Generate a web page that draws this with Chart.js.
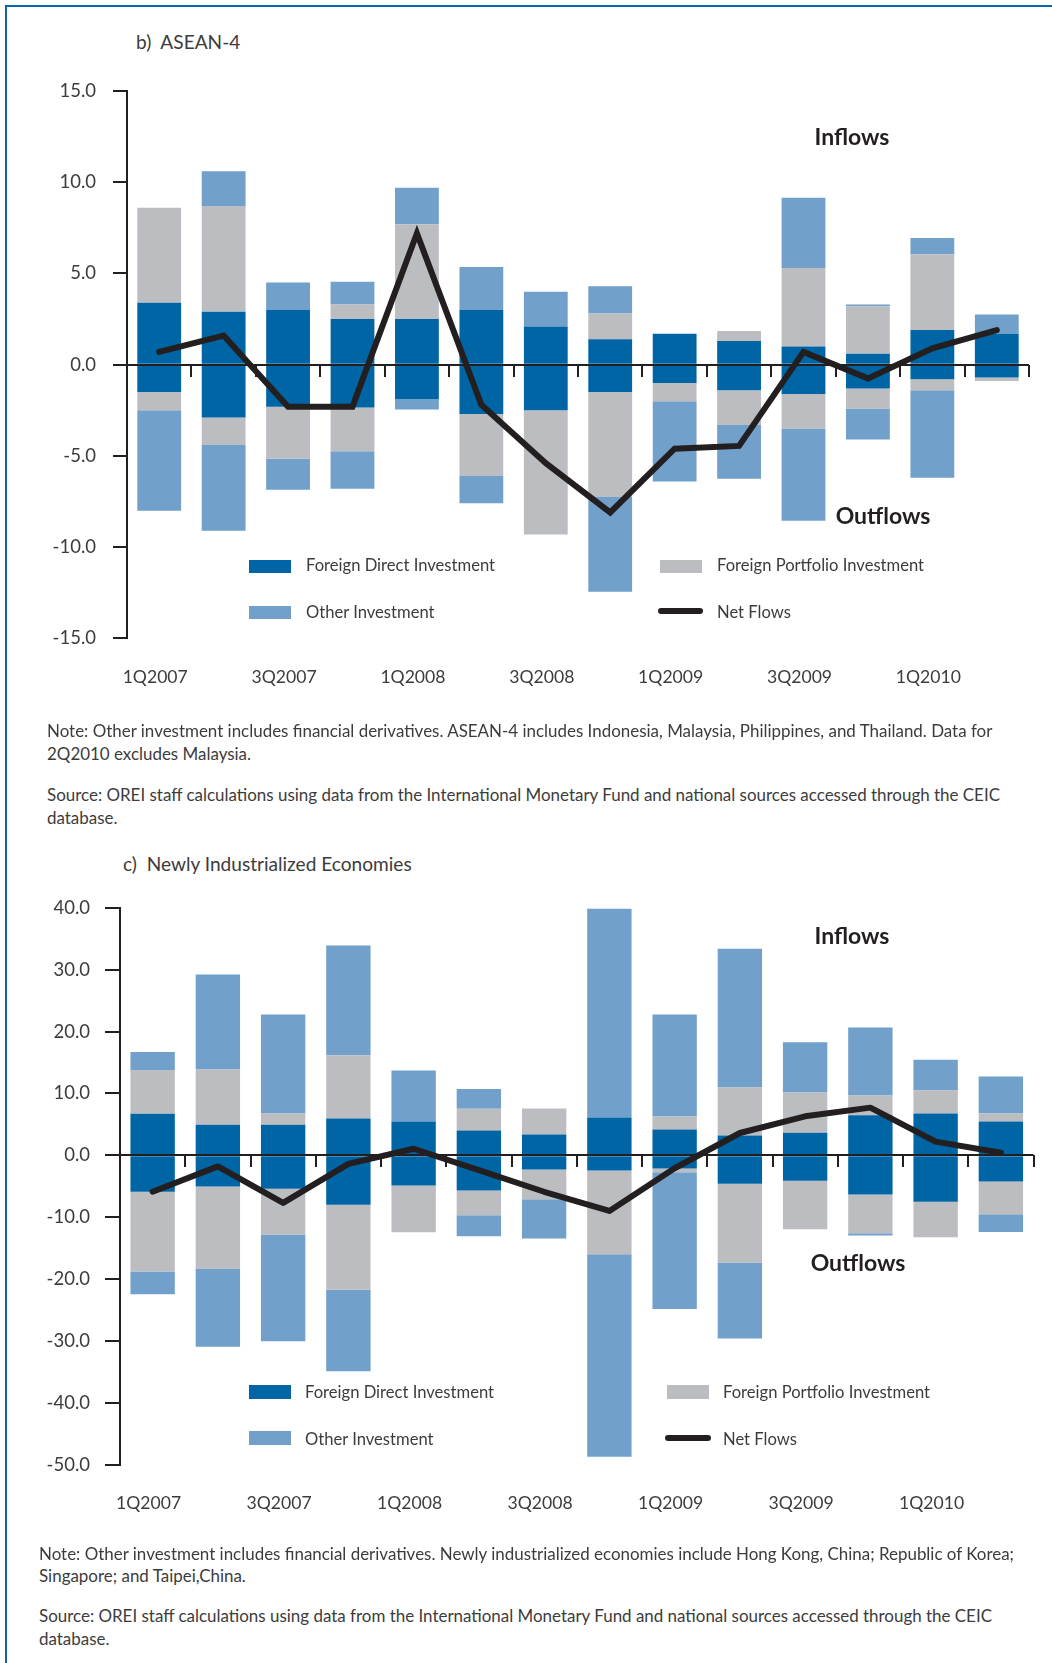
<!DOCTYPE html>
<html><head><meta charset="utf-8">
<script src="https://cdn.jsdelivr.net/npm/chart.js@4.4.1/dist/chart.umd.min.js"></script>
<style>
html,body{margin:0;padding:0;background:#fff;}
body{width:1052px;height:1663px;position:relative;overflow:hidden;font-family:"Lato","Open Sans",sans-serif;color:#3c3c3c;}
.bt{position:absolute;left:5px;top:5px;width:1047px;height:2px;background:#0e65a9;}
.bl{position:absolute;left:5px;top:5px;width:2px;height:1658px;background:#0e65a9;}
.t{position:absolute;white-space:nowrap;line-height:1;transform:translateY(-50%);}
.c{transform:translate(-50%,-50%);}
.title{font-size:19.1px;}
.note{font-size:16.95px;}
.lg{font-size:16.6px;}
.big{font-weight:700;font-size:23px;color:#231f20;}
.sw{position:absolute;width:42px;height:13px;}
.ln{position:absolute;height:6px;border-radius:3px;background:#231f20;}
canvas{position:absolute;left:0;}
</style></head>
<body>
<div class="bt"></div><div class="bl"></div>

<div class="t title" style="left:136px;top:42px;">b)&nbsp; ASEAN-4</div>
<canvas id="cb" width="1052" height="720" style="top:0"></canvas>
<div class="t big c" style="left:852px;top:136px;">Inflows</div>
<div class="t big c" style="left:883px;top:515px;">Outflows</div>
<div class="sw" style="left:249px;top:560px;background:#0065a4"></div>
<div class="t lg" style="left:306px;top:565px;">Foreign Direct Investment</div>
<div class="sw" style="left:249px;top:606px;background:#71a0ca"></div>
<div class="t lg" style="left:306px;top:612px;">Other Investment</div>
<div class="sw" style="left:660px;top:560px;background:#bcbdc1"></div>
<div class="t lg" style="left:717px;top:565px;">Foreign Portfolio Investment</div>
<div class="ln" style="left:658px;top:608px;width:45px;"></div>
<div class="t lg" style="left:717px;top:612px;">Net Flows</div>
<div class="t note" style="left:47px;top:731px;">Note: Other investment includes financial derivatives. ASEAN-4 includes Indonesia, Malaysia, Philippines, and Thailand. Data for</div>
<div class="t note" style="left:47px;top:754px;">2Q2010 excludes Malaysia.</div>
<div class="t note" style="left:47px;top:795px;">Source: OREI staff calculations using data from the International Monetary Fund and national sources accessed through the CEIC</div>
<div class="t note" style="left:47px;top:818px;">database.</div>

<div class="t title" style="left:123px;top:864px;">c)&nbsp; Newly Industrialized Economies</div>
<canvas id="cc" width="1052" height="760" style="top:800px"></canvas>
<div class="t big c" style="left:852px;top:935px;">Inflows</div>
<div class="t big c" style="left:858px;top:1262px;">Outflows</div>
<div class="sw" style="left:249px;top:1385px;height:14px;background:#0065a4"></div>
<div class="t lg" style="left:305px;top:1392px;">Foreign Direct Investment</div>
<div class="sw" style="left:249px;top:1431px;height:14px;background:#71a0ca"></div>
<div class="t lg" style="left:305px;top:1439px;">Other Investment</div>
<div class="sw" style="left:667px;top:1385px;height:14px;background:#bcbdc1"></div>
<div class="t lg" style="left:723px;top:1392px;">Foreign Portfolio Investment</div>
<div class="ln" style="left:665px;top:1435px;width:46px;"></div>
<div class="t lg" style="left:723px;top:1439px;">Net Flows</div>
<div class="t note" style="left:39px;top:1554px;">Note: Other investment includes financial derivatives. Newly industrialized economies include Hong Kong, China; Republic of Korea;</div>
<div class="t note" style="left:39px;top:1576px;">Singapore; and Taipei,China.</div>
<div class="t note" style="left:39px;top:1616px;">Source: OREI staff calculations using data from the International Monetary Fund and national sources accessed through the CEIC</div>
<div class="t note" style="left:39px;top:1639px;">database.</div>

<script>
const quarters = ["1Q2007","2Q2007","3Q2007","4Q2007","1Q2008","2Q2008","3Q2008","4Q2008","1Q2009","2Q2009","3Q2009","4Q2009","1Q2010","2Q2010"];

// b) ASEAN-4
const aseanFdiIn  = [3.4, 2.9, 3.0, 2.5, 2.5, 3.0, 2.1, 1.4, 1.7, 1.3, 1.0, 0.6, 1.9, 1.7];
const aseanFdiOut = [-1.5, -2.9, -2.3, -2.35, -1.9, -2.7, -2.5, -1.5, -1.0, -1.4, -1.6, -1.3, -0.8, -0.7];
const aseanFpiIn  = [5.2, 5.8, 0, 0.8, 5.2, 0, 0, 1.4, 0, 0.55, 4.3, 2.6, 4.15, 0];
const aseanFpiOut = [-1.0, -1.5, -2.85, -2.4, 0, -3.4, -6.8, -5.75, -1.0, -1.9, -1.9, -1.1, -0.6, -0.2];
const aseanOiIn   = [0, 1.9, 1.5, 1.25, 2.0, 2.35, 1.9, 1.5, 0, 0, 3.85, 0.1, 0.9, 1.05];
const aseanOiOut  = [-5.5, -4.7, -1.7, -2.05, -0.55, -1.5, 0, -5.2, -4.4, -2.95, -5.05, -1.7, -4.8, 0];
const aseanNet    = [0.7, 1.6, -2.3, -2.3, 7.2, -2.2, -5.4, -8.1, -4.6, -4.45, 0.7, -0.75, 0.9, 1.9];
const aseanTicks  = {min: -15, max: 15, step: 5};

// c) Newly Industrialized Economies
const nieFdiIn  = [6.7, 4.95, 4.95, 5.95, 5.45, 4.0, 3.35, 6.1, 4.15, 3.2, 3.65, 6.45, 6.75, 5.45];
const nieFdiOut = [-5.9, -5.05, -5.4, -8.0, -4.9, -5.7, -2.3, -2.45, -2.15, -4.6, -4.1, -6.35, -7.5, -4.25];
const nieFpiIn  = [7.1, 8.9, 1.8, 10.2, 0, 3.5, 4.2, 0, 2.1, 7.75, 6.5, 3.2, 3.7, 1.3];
const nieFpiOut = [-12.9, -13.25, -7.4, -13.75, -7.55, -4.0, -4.8, -13.55, -0.6, -12.75, -7.85, -6.25, -5.75, -5.3];
const nieOiIn   = [2.9, 15.35, 16.0, 17.75, 8.25, 3.2, 0, 33.75, 16.5, 22.45, 8.1, 11.0, 5.0, 6.0];
const nieOiOut  = [-3.65, -12.65, -17.25, -13.15, 0, -3.4, -6.35, -32.75, -22.1, -12.25, 0, -0.35, 0, -2.85];
const nieNet    = [-5.9, -1.8, -7.7, -1.4, 1.05, -2.4, -5.9, -9.0, -2.1, 3.6, 6.3, 7.7, 2.2, 0.4];
const nieTicks  = {min: -50, max: 40, step: 10};

const C_FDI = '#0065a4', C_FPI = '#bcbdc1', C_OI = '#71a0ca', C_NET = '#231f20', C_TXT = '#3c3c3c';
const FONT = '"Lato","Open Sans",sans-serif';

const zeroAxis = {
  id: 'zeroAxis',
  beforeDatasetDraw(chart, args) {
    if (args.meta.type !== 'line') return;
    const {ctx, chartArea, scales: {x, y}} = chart;
    const y0 = Math.round(y.getPixelForValue(0));
    ctx.save();
    ctx.strokeStyle = C_NET; ctx.lineWidth = 2;
    ctx.beginPath();
    ctx.moveTo(chartArea.left, y0); ctx.lineTo(chartArea.right, y0);
    const n = chart.data.labels.length;
    for (let i = 1; i <= n; i++) {
      const bx = Math.round(x.getPixelForValue(i - 0.5));
      ctx.moveTo(bx, y0); ctx.lineTo(bx, y0 + 12);
    }
    ctx.stroke();
    ctx.restore();
  }
};

function bar(label, data, color) {
  return {type: 'bar', label, data, backgroundColor: color, borderWidth: 0, stack: 's', order: 1,
          barPercentage: 0.68, categoryPercentage: 1};
}

function makeChart(id, d, cfg) {
  new Chart(document.getElementById(id), {
    type: 'bar',
    data: {
      labels: quarters,
      datasets: [
        bar('Foreign Direct Investment', d.fdiIn, C_FDI),
        bar('Foreign Direct Investment out', d.fdiOut, C_FDI),
        bar('Foreign Portfolio Investment', d.fpiIn, C_FPI),
        bar('Foreign Portfolio Investment out', d.fpiOut, C_FPI),
        bar('Other Investment', d.oiIn, C_OI),
        bar('Other Investment out', d.oiOut, C_OI),
        {type: 'line', label: 'Net Flows', data: d.net, borderColor: C_NET, borderWidth: 6,
         pointRadius: 0, tension: 0, borderCapStyle: 'round', borderJoinStyle: cfg.join,
         stack: 'net', order: 0, fill: false, clip: false}
      ]
    },
    options: {
      responsive: false, animation: false, devicePixelRatio: 1,
      layout: {padding: {left: 0, right: cfg.right, top: cfg.top, bottom: 0}},
      plugins: {legend: {display: false}, tooltip: {enabled: false}},
      scales: {
        x: {
          stacked: true, offset: true,
          grid: {display: false, drawTicks: false}, border: {display: false},
          ticks: {autoSkip: false, maxRotation: 0, minRotation: 0, padding: cfg.xPad, labelOffset: -4,
                  color: C_TXT, font: {family: FONT, size: 17.6},
                  callback(v, i) { return i % 2 === 0 ? this.getLabelForValue(v) : ''; }},
          afterFit(s) { s.height = cfg.xh; }
        },
        y: {
          stacked: true, min: cfg.ticks.min, max: cfg.ticks.max,
          grid: {display: true, drawOnChartArea: false, drawTicks: true, tickLength: cfg.tl,
                 color: C_NET, lineWidth: 2},
          border: {display: true, color: C_NET, width: 2},
          ticks: {stepSize: cfg.ticks.step, padding: cfg.yPad, color: C_TXT,
                  font: {family: FONT, size: 18.5},
                  callback(v) { return Number(v).toFixed(1); }},
          afterFit(s) { s.width = cfg.yw; }
        }
      }
    },
    plugins: [zeroAxis]
  });
}

makeChart('cb', {fdiIn: aseanFdiIn, fdiOut: aseanFdiOut, fpiIn: aseanFpiIn, fpiOut: aseanFpiOut,
                 oiIn: aseanOiIn, oiOut: aseanOiOut, net: aseanNet},
          {ticks: aseanTicks, right: 23, top: 91, xh: 81.6, yw: 127, tl: 14, yPad: 17, xPad: 28, join: 'miter'});
makeChart('cc', {fdiIn: nieFdiIn, fdiOut: nieFdiOut, fpiIn: nieFpiIn, fpiOut: nieFpiOut,
                 oiIn: nieOiIn, oiOut: nieOiOut, net: nieNet},
          {ticks: nieTicks, right: 18.5, top: 107.8, xh: 95.4, yw: 120, tl: 15, yPad: 15, xPad: 28, join: 'round'});
</script>
</body></html>
